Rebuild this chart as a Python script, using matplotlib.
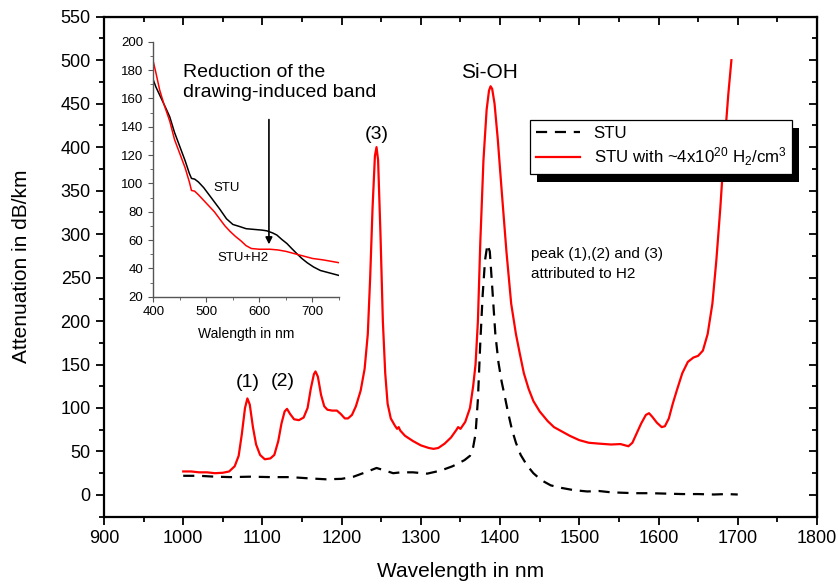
import numpy as np
import matplotlib
matplotlib.use('Agg')
import matplotlib.pyplot as plt
from matplotlib.ticker import MultipleLocator
from matplotlib.patches import Rectangle

plt.rcParams['font.family'] = ['Liberation Sans', 'DejaVu Sans']
plt.rcParams['mathtext.default'] = 'regular'

# main spectrum: STU with H2 (red, solid)
wl_h2 = [1000, 1010, 1020, 1030, 1040, 1050, 1058, 1065, 1070, 1074, 1078, 1081, 1084, 1088,
         1092, 1097, 1103, 1110, 1115, 1120, 1124, 1128, 1131, 1135, 1140, 1146, 1152, 1157,
         1161, 1165, 1167, 1170, 1174, 1178, 1182, 1188, 1194, 1199, 1204, 1208, 1213, 1218,
         1224, 1229, 1233, 1236, 1239, 1242, 1244, 1246, 1249, 1252, 1255, 1258, 1262, 1267,
         1270, 1272, 1274, 1280, 1290, 1300, 1310, 1316, 1322, 1330, 1338, 1345, 1347, 1350,
         1356, 1362, 1366, 1369, 1372, 1375, 1379, 1383, 1386, 1388, 1390, 1393, 1397, 1402,
         1408, 1414, 1420, 1425, 1430, 1436, 1442, 1450, 1460, 1468, 1478, 1488, 1500, 1512,
         1525, 1540, 1552, 1558, 1562, 1567, 1572, 1578, 1584, 1588, 1592, 1598, 1604, 1608,
         1613, 1618, 1623, 1630, 1637, 1644, 1650, 1656, 1662, 1668, 1673, 1678, 1683, 1688, 1692]
att_h2 = [27, 27, 26, 26, 25, 25.5, 27, 33, 45, 70, 100, 111, 104, 78,
          58, 46, 41, 42, 46, 62, 82, 96, 99, 93, 87, 86, 89, 100,
          122, 139, 142, 136, 115, 102, 98, 97, 97, 93, 88, 88, 92, 102,
          120, 145, 185, 250, 330, 390, 400, 385, 300, 200, 140, 105, 88, 80,
          76, 78, 74, 68, 62, 57, 54, 53, 54, 59, 66, 75, 78, 76,
          84, 100, 125, 150, 200, 290, 385, 443, 465, 470, 467, 450, 410, 350,
          280, 220, 185, 162, 140, 122, 108, 96, 85, 78, 73, 68, 63, 60,
          59, 58, 58.5, 57, 56, 60, 70, 82, 92, 94, 90, 83, 78, 79,
          88, 105, 120, 140, 153, 158, 160, 166, 185, 220, 270, 330, 400, 460, 500]

# main spectrum: STU (black, dashed)
wl_stu = [1000, 1020, 1040, 1060, 1085, 1110, 1135, 1160, 1180, 1200, 1215, 1230, 1244, 1255,
          1265, 1275, 1290, 1308, 1325, 1340, 1355, 1362, 1366, 1369, 1372, 1375, 1378, 1381,
          1384, 1387, 1390, 1394, 1398, 1402, 1406, 1410, 1415, 1420, 1426, 1434, 1442, 1452,
          1464, 1478, 1493, 1510, 1525, 1540, 1555, 1570, 1590, 1610, 1630, 1650, 1670, 1685, 1700]
att_stu = [22, 22, 21, 20.5, 21, 20.5, 20.5, 19, 18, 18.5, 21, 26, 31, 28,
           25, 26, 26, 24.5, 28, 33, 40, 45, 55, 70, 110, 175, 230, 270,
           288, 280, 240, 185, 152, 130, 113, 95, 75, 60, 46, 34, 25, 17,
           11, 8, 5.5, 4, 4.5, 3, 2.5, 2, 2, 1.5, 1, 1, 0.5, 1, 0.5]

# inset: visible range
wl_vis = [400, 405, 412, 420, 431, 440, 450, 460, 468, 472, 478, 485, 495, 505, 515, 525,
          535, 545, 555, 565, 575, 585, 600, 620, 635, 650, 665, 680, 700, 720, 735, 750]
vis_h2 = [186, 178, 166, 156, 144, 131, 121, 111, 101, 95, 94.5, 92, 88, 84, 80, 75,
          70, 66, 62.5, 59.5, 56, 54, 53.5, 53.5, 53, 52, 50.5, 49, 47, 46, 45, 44]
wl_vis_stu = [400, 405, 415, 425, 431, 440, 450, 460, 468, 472, 478, 485, 495, 505, 513, 525,
              538, 550, 563, 575, 590, 605, 614, 625, 633, 642, 652, 661, 670, 680, 690, 702,
              715, 730, 740, 750]
vis_stu = [173, 168, 160, 152, 147, 136, 126, 116, 107, 103.5, 103, 101, 97, 92, 88, 82,
           75, 71, 69.5, 68, 67.5, 67, 66.5, 65, 63.5, 60.5, 57.5, 54, 50.6, 47, 44, 41,
           38.5, 37, 36, 35]

fig = plt.figure(figsize=(8.38, 5.88), dpi=100)
ax = fig.add_axes([0.1241, 0.1213, 0.8508, 0.8503])

ax.plot(wl_stu, att_stu, color='black', lw=1.6, linestyle=(0, (5, 3.5)), label='STU')
ax.plot(wl_h2, att_h2, color='red', lw=1.6,
        label='STU with ~4x10$^{20}$ H$_2$/cm$^3$')

ax.set_xlim(900, 1800)
ax.set_ylim(-25, 550)
ax.xaxis.set_major_locator(MultipleLocator(100))
ax.xaxis.set_minor_locator(MultipleLocator(50))
ax.yaxis.set_major_locator(MultipleLocator(50))
ax.yaxis.set_minor_locator(MultipleLocator(25))
ax.tick_params(which='both', direction='out', width=1.3, labelsize=13, top=False, right=False)
ax.tick_params(which='major', length=6)
ax.tick_params(which='minor', length=3.5)
for sp in ax.spines.values():
    sp.set_linewidth(1.6)

# mirrored ticks pointing inward on top and right
sec_x = ax.secondary_xaxis('top')
sec_x.xaxis.set_major_locator(MultipleLocator(100))
sec_x.xaxis.set_minor_locator(MultipleLocator(50))
sec_x.tick_params(which='both', direction='in', labeltop=False, width=1.3)
sec_x.tick_params(which='major', length=6)
sec_x.tick_params(which='minor', length=3.5)
sec_y = ax.secondary_yaxis('right')
sec_y.yaxis.set_major_locator(MultipleLocator(50))
sec_y.yaxis.set_minor_locator(MultipleLocator(25))
sec_y.tick_params(which='both', direction='in', labelright=False, width=1.3)
sec_y.tick_params(which='major', length=6)
sec_y.tick_params(which='minor', length=3.5)

ax.set_xlabel('Wavelength in nm', fontsize=15)
ax.set_ylabel('Attenuation in dB/km', fontsize=15)
ax.xaxis.set_label_coords(0.5, -0.09)
ax.yaxis.set_label_coords(-0.102, 0.5)

# peak annotations
ax.text(1081, 129, '(1)', fontsize=14, ha='center', va='center')
ax.text(1126, 131, '(2)', fontsize=14, ha='center', va='center')
ax.text(1244, 414, '(3)', fontsize=14, ha='center', va='center')
ax.text(1387, 486, 'Si-OH', fontsize=15, ha='center', va='center')
ax.text(1439, 285, 'peak (1),(2) and (3)\nattributed to H2', fontsize=11, ha='left', va='top',
        linespacing=1.55)

leg = ax.legend(loc='upper left', bbox_to_anchor=(0.5975, 0.793), borderaxespad=0,
                fontsize=12.2, fancybox=False, edgecolor='black', framealpha=1,
                handlelength=2.6, labelspacing=0.25, borderpad=0.35)
leg.get_frame().set_linewidth(0.9)
leg.set_zorder(6)

# inset
axi = fig.add_axes([0.1829, 0.4954, 0.2216, 0.4337])
axi.plot(wl_vis_stu, vis_stu, color='black', lw=1.1)
axi.plot(wl_vis, vis_h2, color='red', lw=1.1)
axi.set_xlim(400, 750)
axi.set_ylim(20, 200)
axi.xaxis.set_major_locator(MultipleLocator(100))
axi.xaxis.set_minor_locator(MultipleLocator(50))
axi.yaxis.set_major_locator(MultipleLocator(20))
axi.yaxis.set_minor_locator(MultipleLocator(10))
axi.spines['top'].set_visible(False)
axi.spines['right'].set_visible(False)
for s in ['left', 'bottom']:
    axi.spines[s].set_color('#555555')
    axi.spines[s].set_linewidth(1.0)
axi.tick_params(which='both', direction='out', colors='#555555', labelcolor='black', labelsize=9.5)
axi.tick_params(which='major', length=3.5)
axi.tick_params(which='minor', length=2)
axi.set_xlabel('Walength in nm', fontsize=10, labelpad=6)
axi.text(456, 184, 'Reduction of the\ndrawing-induced band', fontsize=14, ha='left', va='top')
axi.annotate('', xy=(618, 55), xytext=(618, 147),
             arrowprops=dict(arrowstyle='-|>', color='black', lw=1.2, mutation_scale=10))
axi.text(539, 96.5, 'STU', fontsize=9.5, ha='center', va='center')
axi.text(570, 47, 'STU+H2', fontsize=9.5, ha='center', va='center')

# black drop shadow behind the legend box
fig.canvas.draw()
bb = leg.get_frame().get_window_extent().transformed(fig.transFigure.inverted())
dx, dy = 7 / 838, -8 / 588
shadow = Rectangle((bb.x0 + dx, bb.y0 + dy), bb.width, bb.height, transform=fig.transFigure,
                   facecolor='black', edgecolor='none', zorder=5, clip_on=False)
ax.add_patch(shadow)

fig.savefig('out.png', dpi=100)
